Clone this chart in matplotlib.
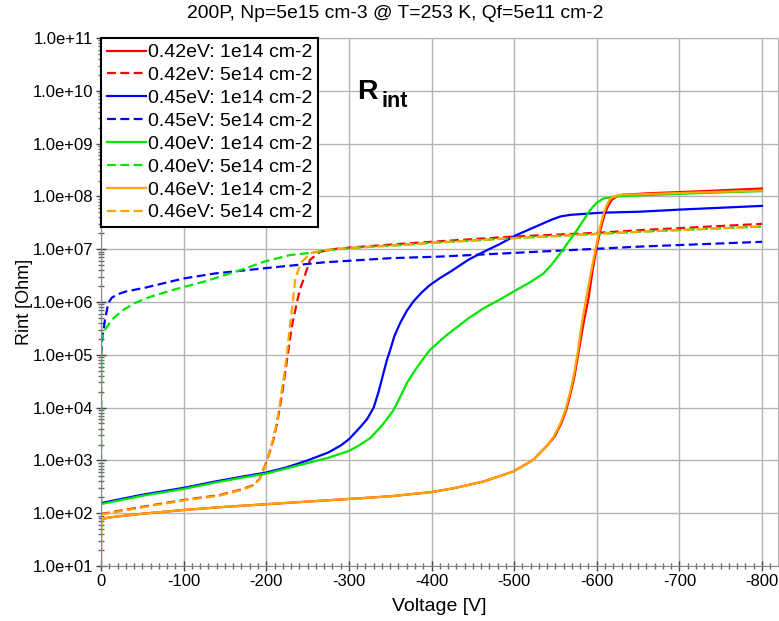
import matplotlib
matplotlib.use("Agg")
import matplotlib.pyplot as plt
from matplotlib.ticker import FuncFormatter, MultipleLocator, FixedLocator, NullFormatter

plt.rcParams['font.family'] = ['Liberation Sans', 'DejaVu Sans']
plt.rcParams['axes.unicode_minus'] = False

# ---------------- data (Voltage [V], Rint [Ohm]) ----------------
v_042_1e14 = [0, -2, -10, -50, -100, -150, -200, -250, -300, -350, -400, -426, -463, -499, -523, -540,
              -549, -557, -563, -568, -573, -578, -584, -590, -595, -600, -605, -610, -614, -618, -624,
              -630, -665, -730, -800]
r_042_1e14 = [7.08e1, 7.76e1, 8.32e1, 9.77e1, 1.15e2, 1.32e2, 1.48e2, 1.66e2, 1.86e2, 2.09e2, 2.51e2,
              2.95e2, 3.98e2, 6.17e2, 1.02e3, 1.91e3, 2.82e3, 5.01e3, 8.91e3, 1.78e4, 3.89e4, 1.12e5,
              3.98e5, 1.17e6, 3.98e6, 1.12e7, 2.51e7, 4.79e7, 6.76e7, 8.51e7, 1.00e8, 1.07e8, 1.15e8,
              1.26e8, 1.41e8]

v_042_5e14 = [0, -2, -50, -100, -144, -170, -184, -192, -196.5, -202, -208.6, -213, -216.7, -220, -222.8,
              -226.8, -230.9, -236.9, -241, -245, -253, -265, -280, -300, -362, -400, -500, -600, -652, -800]
r_042_5e14 = [9.33e1, 9.77e1, 1.32e2, 1.78e2, 2.21e2, 2.82e2, 3.39e2, 4.47e2, 6.61e2, 1.12e3, 2.45e3,
              5.01e3, 1.05e4, 2.24e4, 4.47e4, 1.23e5, 3.39e5, 9.55e5, 1.78e6, 2.63e6, 6.31e6, 8.91e6,
              1.00e7, 1.07e7, 1.26e7, 1.38e7, 1.74e7, 2.04e7, 2.29e7, 3.02e7]

v_045_1e14 = [0, -2, -50, -100, -138, -170, -200, -225, -250, -275, -290, -300, -312, -322, -330, -336,
              -341.8, -346, -350, -355, -362, -370, -378, -388, -398, -410, -422.5, -444.7, -463, -483,
              -503, -525, -544, -556, -568, -604, -652, -700, -800]
r_045_1e14 = [1.58e2, 1.58e2, 2.24e2, 3.02e2, 3.98e2, 4.90e2, 5.89e2, 7.41e2, 1.00e3, 1.41e3, 1.91e3,
              2.51e3, 3.98e3, 6.03e3, 1.00e4, 2.00e4, 4.47e4, 7.94e4, 1.23e5, 2.24e5, 3.98e5, 6.76e5,
              1.02e6, 1.51e6, 2.09e6, 2.82e6, 3.72e6, 6.31e6, 8.91e6, 1.26e7, 1.86e7, 2.63e7, 3.55e7,
              4.17e7, 4.47e7, 4.90e7, 5.13e7, 5.62e7, 6.61e7]

v_045_5e14 = [0, -1, -4.8, -8.8, -13, -19, -30, -53, -87.5, -101.7, -138, -204.6, -269, -350, -410, -500,
              -564, -652, -800]
r_045_5e14 = [1.00e5, 1.78e5, 4.57e5, 9.55e5, 1.20e6, 1.38e6, 1.58e6, 1.86e6, 2.51e6, 2.82e6, 3.47e6,
              4.47e6, 5.62e6, 6.76e6, 7.24e6, 8.51e6, 9.55e6, 1.12e7, 1.38e7]

v_040_1e14 = [0, -2, -50, -100, -138, -170, -200, -250, -275, -300, -312, -325.7, -340, -354, -362, -370,
              -378, -386, -398, -410, -418.5, -444.7, -463, -483, -503, -520, -535.5, -545, -555.7, -565,
              -576, -584, -592, -600, -608, -624, -700, -800]
r_040_1e14 = [1.51e2, 1.51e2, 2.14e2, 2.88e2, 3.80e2, 4.68e2, 5.62e2, 8.91e2, 1.12e3, 1.51e3, 1.91e3,
              2.63e3, 4.57e3, 8.91e3, 1.58e4, 2.88e4, 4.57e4, 6.92e4, 1.23e5, 1.82e5, 2.37e5, 4.90e5,
              7.59e5, 1.12e6, 1.70e6, 2.40e6, 3.47e6, 5.01e6, 8.32e6, 1.32e7, 2.29e7, 3.55e7, 5.50e7,
              7.59e7, 9.12e7, 1.00e8, 1.12e8, 1.26e8]

v_040_5e14 = [0, -0.5, -4.8, -11, -17, -27, -41, -60, -87.5, -101.7, -128, -144, -168, -196.5, -229, -253,
              -280, -300, -362, -400, -500, -600, -652, -800]
r_040_5e14 = [1.58e2, 2.00e5, 2.95e5, 4.17e5, 5.25e5, 7.08e5, 9.55e5, 1.26e6, 1.70e6, 1.95e6, 2.51e6,
              3.02e6, 3.98e6, 5.75e6, 7.76e6, 8.51e6, 9.77e6, 1.05e7, 1.20e7, 1.32e7, 1.62e7, 1.95e7,
              2.14e7, 2.69e7]

v_046_1e14 = [0, -0.5, -2, -10, -50, -100, -150, -200, -250, -300, -350, -400, -426, -463, -499, -523, -540,
              -548, -556, -562, -567, -572, -577, -582, -587, -592, -597, -600, -604, -608, -612, -616,
              -622, -630, -700, -800]
r_046_1e14 = [1.0e1, 7.08e1, 7.76e1, 8.32e1, 9.77e1, 1.15e2, 1.32e2, 1.48e2, 1.66e2, 1.86e2, 2.09e2,
              2.51e2, 2.95e2, 3.98e2, 6.17e2, 1.02e3, 1.91e3, 2.82e3, 5.01e3, 8.91e3, 1.78e4, 3.89e4,
              1.12e5, 3.98e5, 1.12e6, 3.02e6, 7.59e6, 1.29e7, 2.63e7, 4.57e7, 6.76e7, 8.91e7, 1.02e8,
              1.07e8, 1.16e8, 1.29e8]

v_046_5e14 = [0, -2, -50, -100, -144, -170, -184, -192, -196.5, -202, -208, -212.5, -216, -219, -222,
              -225.5, -228.5, -232, -235, -239, -243, -253, -265, -280, -300, -362, -400, -500, -600,
              -652, -800]
r_046_5e14 = [8.91e1, 9.55e1, 1.29e2, 1.74e2, 2.16e2, 2.75e2, 3.31e2, 4.37e2, 6.31e2, 1.12e3, 2.45e3,
              5.01e3, 1.05e4, 2.24e4, 4.47e4, 1.23e5, 3.39e5, 9.55e5, 2.63e6, 4.17e6, 5.75e6, 8.32e6,
              9.33e6, 1.00e7, 1.05e7, 1.20e7, 1.32e7, 1.62e7, 1.95e7, 2.14e7, 2.69e7]

series = [
    ("0.42eV: 1e14 cm-2", v_042_1e14, r_042_1e14, "#ff0000", "-"),
    ("0.42eV: 5e14 cm-2", v_042_5e14, r_042_5e14, "#ff0000", "--"),
    ("0.45eV: 1e14 cm-2", v_045_1e14, r_045_1e14, "#0000ff", "-"),
    ("0.45eV: 5e14 cm-2", v_045_5e14, r_045_5e14, "#0000ff", "--"),
    ("0.40eV: 1e14 cm-2", v_040_1e14, r_040_1e14, "#00e600", "-"),
    ("0.40eV: 5e14 cm-2", v_040_5e14, r_040_5e14, "#00e600", "--"),
    ("0.46eV: 1e14 cm-2", v_046_1e14, r_046_1e14, "#ffa500", "-"),
    ("0.46eV: 5e14 cm-2", v_046_5e14, r_046_5e14, "#ffa500", "--"),
]

title = "200P, Np=5e15 cm-3 @ T=253 K, Qf=5e11 cm-2"
x_ticks = [0, -100, -200, -300, -400, -500, -600, -700, -800]
y_ticks = [1e1, 1e2, 1e3, 1e4, 1e5, 1e6, 1e7, 1e8, 1e9, 1e10, 1e11]
y_minor = [m * 10.0 ** e for e in range(1, 11) for m in range(2, 10)]

# ---------------- figure ----------------
fig = plt.figure(figsize=(7.79, 6.21), dpi=100)
ax = fig.add_axes([101 / 779, 55 / 621, (777.7 - 101) / 779, 528 / 621])

for label, v, r, c, ls in series:
    if ls == "--":
        ax.plot(v, r, color=c, lw=1.6, linestyle=(0, (4, 2)), label=label)
    else:
        ax.plot(v, r, color=c, lw=1.6, label=label)

ax.set_yscale("log")
ax.set_ylim(1e1, 1e11)
ax.set_xlim(0, -819)
ax.set_xticks(x_ticks)
ax.xaxis.set_major_formatter(FuncFormatter(lambda x, p: "%d" % round(x)))
ax.xaxis.set_minor_locator(MultipleLocator(10))
ax.yaxis.set_major_locator(FixedLocator(y_ticks))
ax.yaxis.set_minor_locator(FixedLocator(y_minor))
ax.yaxis.set_minor_formatter(NullFormatter())
ax.yaxis.set_major_formatter(FuncFormatter(lambda y, p: "%.1e" % y))

ax.grid(True, which="major", color="#b4b4b4", lw=1)
ax.set_axisbelow(True)
for s in ["left", "bottom"]:
    ax.spines[s].set_color("#888888")
for s in ["top", "right"]:
    ax.spines[s].set_color("#b4b4b4")

ax.tick_params(which="major", direction="inout", length=7, width=1, color="#444444",
               labelsize=12, pad=2)
ax.tick_params(which="minor", direction="inout", length=4, width=1, color="#666666")

ax.set_xlabel("Voltage [V]", fontsize=14, labelpad=7)
ax.set_ylabel("Rint [Ohm]", fontsize=13, labelpad=0)
fig.text(0.507, 0.992, title, ha="center", va="top", fontsize=13.9)

leg = ax.legend(loc="upper left", bbox_to_anchor=(0, 1), borderaxespad=0, fontsize=14,
                frameon=True, fancybox=False, edgecolor="black", framealpha=1,
                handlelength=2.0, handletextpad=0.1, labelspacing=0.27, borderpad=0.3)
leg.get_frame().set_linewidth(1.5)

ax.text(0.378, 0.884, "R", transform=ax.transAxes, fontsize=20.5, fontweight="bold",
        ha="left", va="baseline")
ax.text(0.414, 0.869, "int", transform=ax.transAxes, fontsize=15.5, fontweight="bold",
        ha="left", va="baseline")

fig.savefig("out.png", dpi=100)
